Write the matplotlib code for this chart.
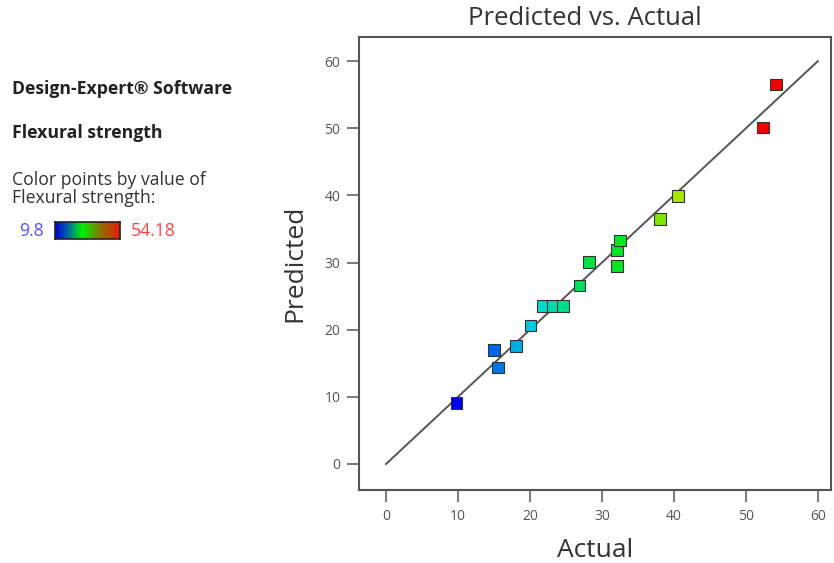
import matplotlib
matplotlib.use("Agg")
import matplotlib.pyplot as plt
import numpy as np
from matplotlib.colors import LinearSegmentedColormap, Normalize

plt.rcParams['font.family'] = ['Open Sans', 'DejaVu Sans']

actual = [9.8, 15.0, 15.6, 18.1, 20.1, 21.8, 23.2, 24.6, 26.9, 28.2, 32.1, 32.1, 32.5, 38.1, 40.6, 52.4, 54.18]
predicted = [9.1, 17.0, 14.4, 17.6, 20.6, 23.5, 23.5, 23.5, 26.6, 30.1, 29.5, 31.9, 33.3, 36.5, 39.9, 50.1, 56.5]
xticks = [0, 10, 20, 30, 40, 50, 60]
yticks = [0, 10, 20, 30, 40, 50, 60]
vmin, vmax = 9.8, 54.18

cmap = LinearSegmentedColormap.from_list("de", [
    (0.0, (0.0, 0.0, 0.90)),
    (0.12, (0.0, 0.43, 0.90)),
    (0.19, (0.0, 0.70, 0.88)),
    (0.26, (0.0, 0.85, 0.85)),
    (0.33, (0.0, 0.87, 0.55)),
    (0.42, (0.0, 0.88, 0.25)),
    (0.50, (0.0, 0.90, 0.15)),
    (0.64, (0.50, 0.90, 0.0)),
    (0.70, (0.68, 0.90, 0.0)),
    (0.85, (0.95, 0.40, 0.0)),
    (0.96, (0.95, 0.0, 0.0)),
    (1.0, (0.95, 0.0, 0.0)),
])
bar_cmap = LinearSegmentedColormap.from_list("bar", [
    (0.0, (0.0, 0.0, 0.85)),
    (0.2, (0.0, 0.4, 0.65)),
    (0.42, (0.0, 0.95, 0.0)),
    (0.7, (0.55, 0.45, 0.0)),
    (1.0, (0.92, 0.1, 0.0)),
])

fig = plt.figure(figsize=(8.34, 5.63), dpi=100)
ax = fig.add_axes([0.4305, 0.1297, 0.997 - 0.4305, 0.9343 - 0.1297])

ax.plot([0, 60], [0, 60], color='#555555', lw=1.4, zorder=2)
ax.scatter(actual, predicted, c=actual, cmap=cmap, norm=Normalize(vmin, vmax),
           marker='s', s=70, edgecolors='#333333', linewidths=0.8, zorder=3)

ax.set_xlim(-3.75, 61.9)
ax.set_ylim(-3.87, 63.6)
ax.set_xticks(xticks)
ax.set_yticks(yticks)
ax.tick_params(direction='out', length=8.5, width=1.1, color='#555555', labelcolor='#555555',
               labelsize=10, pad=5)
for side in ['left', 'right', 'top', 'bottom']:
    ax.spines[side].set_color('#555555')
    ax.spines[side].set_linewidth(1.5)
ax.set_xlabel('Actual', fontsize=19, color='#333333', labelpad=10)
ax.set_ylabel('Predicted', fontsize=19, color='#333333', labelpad=12)

fig.text(0.701, 0.968, 'Predicted vs. Actual', ha='center', va='center', fontsize=18.5, color='#333333')

fs = 12.7
fig.text(0.014, 0.842, 'Design-Expert® Software', ha='left', va='center', fontsize=fs, fontweight='bold', color='#222222')
fig.text(0.014, 0.763, 'Flexural strength', ha='left', va='center', fontsize=fs, fontweight='bold', color='#222222')
fig.text(0.014, 0.681, 'Color points by value of', ha='left', va='center', fontsize=fs, color='#333333')
fig.text(0.014, 0.648, 'Flexural strength:', ha='left', va='center', fontsize=fs, color='#333333')
fig.text(0.023, 0.590, '9.8', ha='left', va='center', fontsize=fs, color='#5555ff')
fig.text(0.157, 0.590, '54.18', ha='left', va='center', fontsize=fs, color='#ff4444')

cax = fig.add_axes([55 / 834, 1 - 239 / 563, 65 / 834, 17 / 563])
cax.imshow(np.linspace(0, 1, 256)[None, :], aspect='auto', cmap=bar_cmap)
cax.set_xticks([])
cax.set_yticks([])
for s in cax.spines.values():
    s.set_color('#222222')
    s.set_linewidth(1.2)

fig.savefig('out.png', dpi=100)
